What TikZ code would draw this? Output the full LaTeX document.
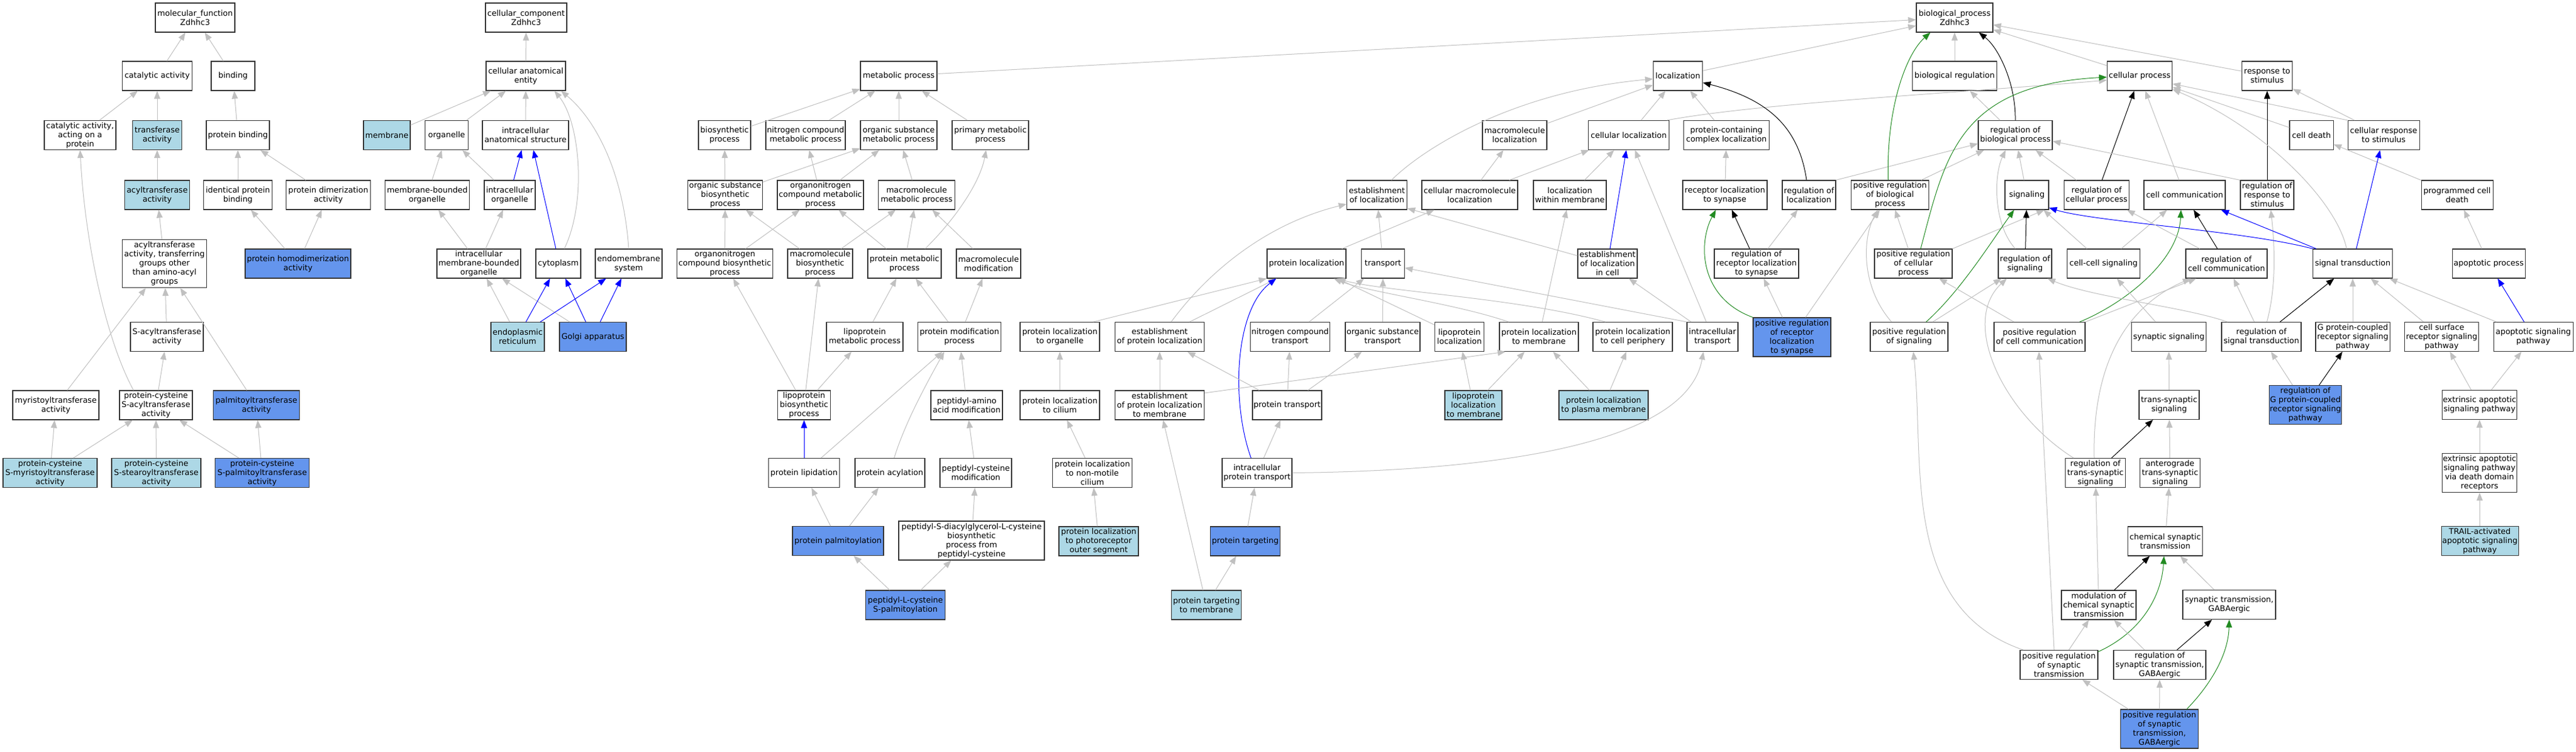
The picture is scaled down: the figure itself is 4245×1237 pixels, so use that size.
\documentclass[tikz,border=0pt]{standalone}
\usepackage{fontspec}
\setmainfont{DejaVu Sans}
\usetikzlibrary{arrows.meta}
\definecolor{lightb}{HTML}{ADD8E6}
\definecolor{cornfl}{HTML}{6495ED}
\definecolor{edgegray}{HTML}{C0C0C0}
\definecolor{fgreen}{HTML}{228B22}

\begin{document}
\begin{tikzpicture}[x=1pt, y=-1pt,
  term/.style={rectangle, draw=black!80, line width=1.1pt, fill=white, align=center, minimum width=#1pt, minimum height=48pt, inner xsep=1pt, inner ysep=2pt, font=\fontsize{13}{15}\selectfont},
  termlight/.style={term=#1, fill=lightb},
  termdark/.style={term=#1, fill=cornfl},
  isa/.style={draw=edgegray, line width=1pt, -{Triangle[length=13pt,width=10pt]}},
  partof/.style={isa, draw=blue},
  regulates/.style={isa, draw=black},
  posreg/.style={isa, draw=fgreen}]
\fill[white] (0,0) rectangle (4245,1237);
\useasboundingbox (0,0) rectangle (4245,1237);

\node[term=131] (mf) at (321.5,29) {molecular\_function\\Zdhhc3};
\node[term=134] (cc) at (867,29) {cellular\_component\\Zdhhc3};
\node[term=126] (bp) at (3221,29) {biological\_process\\Zdhhc3};

\node[term=115] (catact) at (259,125) {catalytic activity};
\node[term=72] (binding) at (384,125) {binding};
\node[term=131] (cae) at (866.5,125) {cellular anatomical\\entity};
\node[term=126] (metab) at (1481,125) {metabolic process};
\node[term=81] (loc) at (2765,125) {localization};
\node[term=139] (bioreg) at (3221,125) {biological regulation};
\node[term=107] (cellproc) at (3526,125) {cellular process};
\node[term=83] (resp) at (3736,125) {response to\\stimulus};

\node[term=118] (actprot) at (132,222.5) {catalytic activity,\\acting on a\\protein};
\node[termlight=81] (transf) at (259,222.5) {transferase\\activity};
\node[term=104] (protbind) at (392,222.5) {protein binding};
\node[termlight=77] (membrane) at (637.5,222.5) {membrane};
\node[term=71] (organelle) at (736,222.5) {organelle};
\node[term=142] (ias) at (866,222.5) {intracellular\\anatomical structure};
\node[term=86] (biosyn) at (1194,222.5) {biosynthetic\\process};
\node[term=131] (ncmp) at (1327.5,222.5) {nitrogen compound\\metabolic process};
\node[term=126] (osmp) at (1481,222.5) {organic substance\\metabolic process};
\node[term=126] (primary) at (1632,222.5) {primary metabolic\\process};
\node[term=106] (macroloc) at (2496,222.5) {macromolecule\\localization};
\node[term=133] (cellloc) at (2684,222.5) {cellular localization};
\node[term=141] (pccl) at (2845,222.5) {protein-containing\\complex localization};
\node[term=122] (regbp) at (3321,222.5) {regulation of\\biological process};
\node[term=72] (celldeath) at (3809,222.5) {cell death};
\node[term=118] (crs) at (3928,222.5) {cellular response\\to stimulus};

\node[termlight=107] (acyl) at (259,321) {acyltransferase\\activity};
\node[term=113] (identical) at (392,321) {identical protein\\binding};
\node[term=139] (dimer) at (541,321) {protein dimerization\\activity};
\node[term=139] (mbo) at (704,321) {membrane-bounded\\organelle};
\node[term=84] (io) at (840,321) {intracellular\\organelle};
\node[term=123] (osbp) at (1195,321) {organic substance\\biosynthetic\\process};
\node[term=142] (oncmp) at (1352,321) {organonitrogen\\compound metabolic\\process};
\node[term=126] (mmp) at (1510.5,321) {macromolecule\\metabolic process};
\node[term=99] (estloc) at (2269,321) {establishment\\of localization};
\node[term=158] (cml) at (2422,321) {cellular macromolecule\\localization};
\node[term=120] (locmem) at (2587,321) {localization\\within membrane};
\node[term=139] (rls) at (2842.5,321) {receptor localization\\to synapse};
\node[term=88] (regloc) at (2981,321) {regulation of\\localization};
\node[term=128] (prbp) at (3114.5,321) {positive regulation\\of biological\\process};
\node[term=72] (signaling) at (3340,321) {signaling};
\node[term=107] (regcp) at (3455,321) {regulation of\\cellular process};
\node[term=134] (cellcomm) at (3600,321) {cell communication};
\node[term=88] (rrs) at (3736,321) {regulation of\\response to\\stimulus};
\node[term=118] (pcd) at (4049,321) {programmed cell\\death};

\node[term=139, minimum height=79pt] (acylgroups) at (271,434) {acyltransferase\\activity, transferring\\groups other\\than amino-acyl\\groups};
\node[termdark=174] (homodimer) at (491,434) {protein homodimerization\\activity};
\node[term=138] (imbo) at (789,434) {intracellular\\membrane-bounded\\organelle};
\node[term=74] (cytoplasm) at (920,434) {cytoplasm};
\node[term=110] (endomem) at (1036,434) {endomembrane\\system};
\node[term=158] (oncbp) at (1194.5,434) {organonitrogen\\compound biosynthetic\\process};
\node[term=107] (mbp) at (1351.5,434) {macromolecule\\biosynthetic\\process};
\node[term=121] (pmp) at (1490.5,434) {protein metabolic\\process};
\node[term=106] (macromod) at (1629,434) {macromolecule\\modification};
\node[term=130] (protloc) at (2153,434) {protein localization};
\node[term=71] (transport) at (2279,434) {transport};
\node[term=98] (elic) at (2649,434) {establishment\\of localization\\in cell};
\node[term=139] (rrls) at (2894.5,434) {regulation of\\receptor localization\\to synapse};
\node[term=128] (prcp) at (3153,434) {positive regulation\\of cellular\\process};
\node[term=88] (regsig) at (3337,434) {regulation of\\signaling};
\node[term=120] (ccsig) at (3466.5,434) {cell-cell signaling};
\node[term=134] (regcc) at (3669,434) {regulation of\\cell communication};
\node[term=131] (sigtrans) at (3877,434) {signal transduction};
\node[term=120] (apoproc) at (4101,434) {apoptotic process};

\node[term=120] (sacyl) at (275,554.5) {S-acyltransferase\\activity};
\node[termlight=88] (er) at (853,554.5) {endoplasmic\\reticulum};
\node[termdark=110] (golgi) at (977,554.5) {Golgi apparatus};
\node[term=126] (lmp) at (1425,554.5) {lipoprotein\\metabolic process};
\node[term=137] (pmodp) at (1581,554.5) {protein modification\\process};
\node[term=131] (plorg) at (1746.5,554.5) {protein localization\\to organelle};
\node[term=147] (epl) at (1911,554.5) {establishment\\of protein localization};
\node[term=131] (nct) at (2126,554.5) {nitrogen compound\\transport};
\node[term=123] (ost) at (2278.5,554.5) {organic substance\\transport};
\node[term=81] (lploc) at (2405,554.5) {lipoprotein\\localization};
\node[term=130] (pltm) at (2536,554.5) {protein localization\\to membrane};
\node[term=131] (plcp) at (2690.5,554.5) {protein localization\\to cell periphery};
\node[term=84] (itrans) at (2822,554.5) {intracellular\\transport};
\node[termdark=128, minimum height=64pt] (prrls) at (2953,555) {positive regulation\\of receptor\\localization\\to synapse};
\node[term=128] (prsig) at (3146,554.5) {positive regulation\\of signaling};
\node[term=150] (prcc) at (3361,554.5) {positive regulation\\of cell communication};
\node[term=123] (synsig) at (3574,554.5) {synaptic signaling};
\node[term=131] (regst) at (3726.5,554.5) {regulation of\\signal transduction};
\node[term=122] (gpcr) at (3877,554.5) {G protein-coupled\\receptor signaling\\pathway};
\node[term=122] (csrsp) at (4023.5,554.5) {cell surface\\receptor signaling\\pathway};
\node[term=131] (asp) at (4174.5,554.5) {apoptotic signaling\\pathway};

\node[term=142] (myristoyl) at (92,667) {myristoyltransferase\\activity};
\node[term=120] (pcsacyl) at (257,667) {protein-cysteine\\S-acyltransferase\\activity};
\node[termdark=142] (palmitoyl) at (422.5,667) {palmitoyltransferase\\activity};
\node[term=87] (lbp) at (1325,667) {lipoprotein\\biosynthetic\\process};
\node[term=118] (paam) at (1593,667) {peptidyl-amino\\acid modification};
\node[term=131] (plcilium) at (1746.5,667) {protein localization\\to cilium};
\node[term=147] (eplm) at (1911,667) {establishment\\of protein localization\\to membrane};
\node[term=114] (ptrans) at (2121,667) {protein transport};
\node[termlight=94] (lptm) at (2428,667) {lipoprotein\\localization\\to membrane};
\node[termlight=147] (plpm) at (2642.5,667) {protein localization\\to plasma membrane};
\node[term=99] (tss) at (3574.5,666.5) {trans-synaptic\\signaling};
\node[termdark=118, minimum height=64pt] (reggpcr) at (3799,666.6) {regulation of\\G protein-coupled\\receptor signaling\\pathway};
\node[term=122] (eas) at (4086,666.5) {extrinsic apoptotic\\signaling pathway};

\node[termlight=155] (pcsmyr) at (82.5,778.5) {protein-cysteine\\S-myristoyltransferase\\activity};
\node[termlight=147] (pcsste) at (257.5,778.5) {protein-cysteine\\S-stearoyltransferase\\activity};
\node[termdark=155] (pcspal) at (432,778.5) {protein-cysteine\\S-palmitoyltransferase\\activity};
\node[term=117] (plipid) at (1325,778.5) {protein lipidation};
\node[term=115] (pacyl) at (1466.5,778.5) {protein acylation};
\node[term=118] (pcm) at (1608,778.5) {peptidyl-cysteine\\modification};
\node[term=131] (plnmc) at (1800,778.5) {protein localization\\to non-motile\\cilium};
\node[term=115] (ipt) at (2071.5,778.5) {intracellular\\protein transport};
\node[term=99] (rtss) at (3453,778.5) {regulation of\\trans-synaptic\\signaling};
\node[term=99] (atss) at (3576,778.5) {anterograde\\trans-synaptic\\signaling};
\node[term=122, minimum height=64pt] (easdd) at (4086,778.5) {extrinsic apoptotic\\signaling pathway\\via death domain\\receptors};

\node[termdark=150] (ppalm) at (1381,890.6) {protein palmitoylation};
\node[term=240, minimum height=64pt] (psdag) at (1601,890) {peptidyl-S-diacylglycerol-L-cysteine\\biosynthetic\\process from\\peptidyl-cysteine};
\node[termlight=131] (plpos) at (1810.5,891) {protein localization\\to photoreceptor\\outer segment};
\node[termdark=115] (ptarg) at (2052,891) {protein targeting};
\node[term=123] (cst) at (3568,891) {chemical synaptic\\transmission};
\node[termlight=127] (trail) at (4086.5,890.5) {TRAIL-activated\\apoptotic signaling\\pathway};

\node[termdark=131] (plcsp) at (1492,996) {peptidyl-L-cysteine\\S-palmitoylation};
\node[termlight=115] (ptm) at (1988,996) {protein targeting\\to membrane};
\node[term=123] (mcst) at (3458.5,996) {modulation of\\chemical synaptic\\transmission};
\node[term=153] (stgaba) at (3673.5,995.5) {synaptic transmission,\\GABAergic};

\node[term=128] (prst) at (3393,1094.5) {positive regulation\\of synaptic\\transmission};
\node[term=152] (rstg) at (3559,1094.5) {regulation of\\synaptic transmission,\\GABAergic};

\node[termdark=128, minimum height=64pt] (prstg) at (3558.5,1200) {positive regulation\\of synaptic\\transmission,\\GABAergic};

\draw[isa] (catact) -- (mf);
\draw[isa] (binding) -- (mf);
\draw[isa] (actprot) -- (catact);
\draw[isa] (transf) -- (catact);
\draw[isa] (protbind) -- (binding);
\draw[isa] (acyl) -- (transf);
\draw[isa] (identical) -- (protbind);
\draw[isa] (dimer) -- (protbind);
\draw[isa] (acylgroups) -- (acyl);
\draw[isa] (homodimer) -- (identical);
\draw[isa] (homodimer) -- (dimer);
\draw[isa] (sacyl) -- (acylgroups);
\draw[isa] (myristoyl) -- (acylgroups);
\draw[isa] (palmitoyl) -- (acylgroups);
\draw[isa] (pcsacyl) -- (sacyl);
\draw[isa] ([xshift=-37pt]pcsacyl.north) .. controls (175,560) and (140,400) .. (actprot.south);
\draw[isa] (pcsmyr) -- (myristoyl);
\draw[isa] (pcsmyr) -- (pcsacyl);
\draw[isa] (pcsste) -- (pcsacyl);
\draw[isa] (pcspal) -- (pcsacyl);
\draw[isa] (pcspal) -- (palmitoyl);

\draw[isa] (cae) -- (cc);
\draw[isa] (membrane) -- (cae);
\draw[isa] (organelle) -- (cae);
\draw[isa] (ias) -- (cae);
\draw[isa] ([xshift=10pt]cytoplasm.north) .. controls (968,330) and (955,200) .. ([xshift=47pt]cae.south);
\draw[isa] (endomem.north) .. controls (1028,290) and (985,200) .. ([xshift=58pt]cae.south);
\draw[isa] (mbo) -- (organelle);
\draw[isa] (io) -- (organelle);
\draw[partof] (io) -- (ias);
\draw[partof] ([xshift=-4pt]cytoplasm.north) -- ([xshift=13pt]ias.south);
\draw[isa] (imbo) -- (mbo);
\draw[isa] (imbo) -- (io);
\draw[isa] (er) -- (imbo);
\draw[isa] (golgi) -- (imbo);
\draw[partof] (er) -- (cytoplasm);
\draw[partof] (er) -- (endomem);
\draw[partof] (golgi) -- (cytoplasm);
\draw[partof] (golgi) -- (endomem);

\draw[isa] (metab) -- (bp);
\draw[isa] (biosyn) -- (metab);
\draw[isa] (ncmp) -- (metab);
\draw[isa] (osmp) -- (metab);
\draw[isa] (primary) -- (metab);
\draw[isa] (osbp) -- (biosyn);
\draw[isa] (osbp) -- (osmp);
\draw[isa] (oncmp) -- (ncmp);
\draw[isa] (oncmp) -- (osmp);
\draw[isa] (mmp) -- (osmp);
\draw[isa] (oncbp) -- (osbp);
\draw[isa] (oncbp) -- (oncmp);
\draw[isa] (mbp) -- (osbp);
\draw[isa] (mbp) -- (mmp);
\draw[isa] (pmp) -- (oncmp);
\draw[isa] (pmp) -- (mmp);
\draw[isa] ([xshift=34pt]pmp.north) .. controls (1575,360) and (1615,300) .. ([xshift=-7pt]primary.south);
\draw[isa] (macromod) -- (mmp);
\draw[isa] (lmp) -- (pmp);
\draw[isa] (pmodp) -- (pmp);
\draw[isa] (pmodp) -- (macromod);
\draw[isa] (lbp) -- (oncbp);
\draw[isa] (lbp) -- (mbp);
\draw[isa] (lbp) -- (lmp);
\draw[partof] (plipid) -- (lbp);
\draw[isa] (plipid) -- (pmodp);
\draw[isa] ([xshift=7pt]pacyl.north) .. controls (1490,700) and (1522,640) .. ([xshift=-25pt]pmodp.south);
\draw[isa] (paam) -- (pmodp);
\draw[isa] (pcm) -- (paam);
\draw[isa] (ppalm) -- (plipid);
\draw[isa] (ppalm) -- (pacyl);
\draw[isa] (psdag) -- (pcm);
\draw[isa] (plcsp) -- (ppalm);
\draw[isa] (plcsp) -- (psdag);

\draw[isa] (loc) -- (bp);
\draw[isa] (macroloc) -- (loc);
\draw[isa] (cellloc) -- (loc);
\draw[isa] (pccl) -- (loc);
\draw[isa] ([xshift=-4pt]cellloc.north east) .. controls (2900,170) and (3200,155) .. ([yshift=-7pt]cellproc.west);
\draw[isa] ([xshift=24pt]estloc.north) .. controls (2350,240) and (2500,150) .. ([yshift=-5pt]loc.west);
\draw[isa] (cml) -- (macroloc);
\draw[isa] (cml) -- (cellloc);
\draw[isa] (locmem) -- (cellloc);
\draw[isa] (rls) -- (pccl);
\draw[regulates] ([xshift=-4pt]regloc.north) .. controls (2965,215) and (2920,165) .. ([yshift=-11pt]loc.east);
\draw[isa] (regloc.north east) -- ([yshift=-14pt]regbp.west);
\draw[posreg] ([xshift=-3pt]prbp.north) .. controls (3108,180) and (3140,90) .. ([xshift=-40pt]bp.south);
\draw[isa] (prbp) -- (regbp);
\draw[isa] ([yshift=13pt]elic.west) -- ([yshift=-22pt]estloc.east);
\draw[partof] (elic) -- (cellloc);
\draw[isa] (protloc) -- (cml);
\draw[isa] ([xshift=19pt]epl.north) .. controls (1985,455) and (2080,370) .. ([yshift=-15pt]estloc.west);
\draw[isa] (transport) -- (estloc);
\draw[regulates] (rrls) -- (rls);
\draw[posreg] (prrls.north west) .. controls (2800,490) and (2798,400) .. ([xshift=-15pt]rls.south);
\draw[isa] (prrls) -- (rrls);
\draw[isa] (prrls) -- (prbp);
\draw[isa] (rrls) -- (regloc);
\draw[isa] (itrans) -- (elic);
\draw[isa] (itrans) -- (cellloc);
\draw[isa] (itrans.north west) -- ([yshift=-7pt]transport.east);
\draw[isa] (ipt.east) .. controls (2470,775) and (2780,730) .. ([xshift=-15pt]itrans.south);
\draw[isa] (nct) -- (transport);
\draw[isa] (ost) -- (transport);
\draw[isa] (lploc) -- (protloc);
\draw[isa] ([xshift=-50pt]pltm.north) .. controls (2400,500) and (2250,480) .. ([xshift=45pt]protloc.south);
\draw[isa] ([xshift=-45pt]plcp.north) .. controls (2500,490) and (2280,480) .. ([xshift=50pt]protloc.south);
\draw[isa] (pltm) -- (locmem);
\draw[isa] ([xshift=55pt]plorg.north) -- (protloc.south west);
\draw[isa] (epl) -- (protloc);
\draw[partof] ([xshift=-10pt]ipt.north) .. controls (2028,660) and (2035,510) .. ([xshift=-50pt]protloc.south);
\draw[isa] (ptrans) -- (epl);
\draw[isa] (ptrans) -- (nct);
\draw[isa] (ptrans) -- (ost);
\draw[isa] (eplm) -- (epl);
\draw[isa] ([yshift=20pt]eplm.east) -- ([xshift=-55pt]pltm.south);
\draw[isa] (lptm) -- (lploc);
\draw[isa] (lptm) -- (pltm);
\draw[isa] (plpm) -- (pltm);
\draw[isa] (plpm) -- (plcp);
\draw[isa] (plcilium) -- (plorg);
\draw[isa] (plnmc) -- (plcilium);
\draw[isa] (plpos) -- (plnmc);
\draw[isa] (ptm) -- (eplm);
\draw[isa] (ptm) -- (ptarg);
\draw[isa] (ptarg) -- (ipt);
\draw[isa] (ipt) -- (ptrans);

\draw[isa] (bioreg) -- (bp);
\draw[isa] (cellproc) -- (bp);
\draw[isa] (resp) -- (bp);
\draw[isa] (regbp) -- (bioreg);
\draw[regulates] (regbp.north) .. controls (3322,140) and (3295,80) .. ([xshift=40pt]bp.south);
\draw[isa] (signaling) -- (regbp);
\draw[isa] (regcp) -- (regbp);
\draw[regulates] (regcp) -- (cellproc);
\draw[isa] (prcp) -- (prbp);
\draw[posreg] ([xshift=12pt]prcp.north) .. controls (3205,260) and (3225,140) .. ([yshift=-2pt]cellproc.west);
\draw[isa] (prcp.north east) -- ([xshift=29pt]signaling.south);
\draw[regulates] (regsig) -- (signaling);
\draw[isa] ([xshift=-16pt]regsig.north) .. controls (3285,370) and (3285,290) .. ([xshift=-16pt]regbp.south);
\draw[isa] (ccsig) -- (signaling);
\draw[isa] (ccsig) -- (cellcomm);
\draw[posreg] ([xshift=28pt]prsig.north) .. controls (3230,480) and (3280,400) .. ([xshift=-21pt]signaling.south);
\draw[isa] (prsig) -- (regsig);
\draw[isa] ([xshift=-29pt]prsig.north) .. controls (3065,470) and (3070,390) .. ([xshift=-20pt]prbp.south);
\draw[isa] (prcc) -- (prcp);
\draw[posreg] ([xshift=66pt]prcc.north) .. controls (3500,500) and (3590,430) .. ([xshift=-6pt]cellcomm.south);
\draw[isa] (prcc.north east) -- ([xshift=-50pt]regcc.south);
\draw[isa] (synsig) -- (ccsig);
\draw[isa] ([xshift=-56pt]regst.north) .. controls (3600,505) and (3450,490) .. ([xshift=37pt]regsig.south);
\draw[isa] (regst) -- (regcc);
\draw[isa] ([xshift=9pt]regst.north) .. controls (3752,470) and (3748,400) .. ([xshift=6pt]rrs.south);
\draw[regulates] (regst) -- (sigtrans);
\draw[isa] (gpcr) -- (sigtrans);
\draw[isa] (csrsp) -- (sigtrans);
\draw[isa] (asp) -- (sigtrans);
\draw[partof] (asp) -- (apoproc);
\draw[isa] (apoproc) -- (pcd);
\draw[isa] (pcd) -- (celldeath);
\draw[isa] (celldeath) -- (cellproc);
\draw[isa] (crs) -- (resp);
\draw[isa] (crs.north west) -- ([yshift=-13pt]cellproc.east);
\draw[isa] (cellcomm) -- (cellproc);
\draw[regulates] (rrs) -- (resp);
\draw[isa] (rrs.north west) -- ([yshift=-10pt]regbp.east);
\draw[partof] (sigtrans) -- (cellcomm);
\draw[partof] (sigtrans.north west) .. controls (3700,380) and (3450,365) .. ([yshift=-21pt]signaling.east);
\draw[partof] (sigtrans) -- (crs);
\draw[isa] ([xshift=-10pt]sigtrans.north) .. controls (3850,330) and (3730,210) .. ([yshift=-22pt]cellproc.east);
\draw[regulates] (regcc) -- (cellcomm);
\draw[isa] ([xshift=-44pt]regcc.north) -- ([xshift=50pt]regcp.south);
\draw[regulates] (reggpcr) -- (gpcr);
\draw[isa] (reggpcr) -- (regst);
\draw[isa] (eas) -- (csrsp);
\draw[isa] (eas) -- (asp);
\draw[isa] (easdd) -- (eas);
\draw[isa] (trail) -- (easdd);

\draw[isa] (tss) -- (synsig);
\draw[regulates] (rtss) -- (tss);
\draw[isa] ([xshift=-36pt]rtss.north) .. controls (3300,680) and (3230,530) .. ([xshift=-30pt]regsig.south);
\draw[isa] ([xshift=-2pt]rtss.north) .. controls (3448,620) and (3490,510) .. ([xshift=-59pt]regcc.south);
\draw[isa] (atss) -- (tss);
\draw[isa] (cst) -- (atss);
\draw[regulates] (mcst) -- (cst);
\draw[isa] (mcst) -- (rtss);
\draw[isa] (stgaba) -- (cst);
\draw[isa] (prst) -- (mcst);
\draw[posreg] ([yshift=-3pt]prst.north east) .. controls (3530,1040) and (3562,980) .. ([xshift=-2pt]cst.south);
\draw[isa] ([xshift=-59pt]prst.north) .. controls (3130,1000) and (3172,760) .. ([xshift=7pt]prsig.south);
\draw[isa] ([xshift=-8pt]prst.north) -- ([xshift=-1pt]prcc.south);
\draw[isa] (rstg) -- (mcst);
\draw[regulates] (rstg) -- (stgaba);
\draw[isa] (prstg) -- (prst);
\draw[isa] (prstg) -- (rstg);
\draw[posreg] ([xshift=45pt]prstg.north) .. controls (3640,1130) and (3672,1080) .. (stgaba.south);

\end{tikzpicture}
\end{document}
